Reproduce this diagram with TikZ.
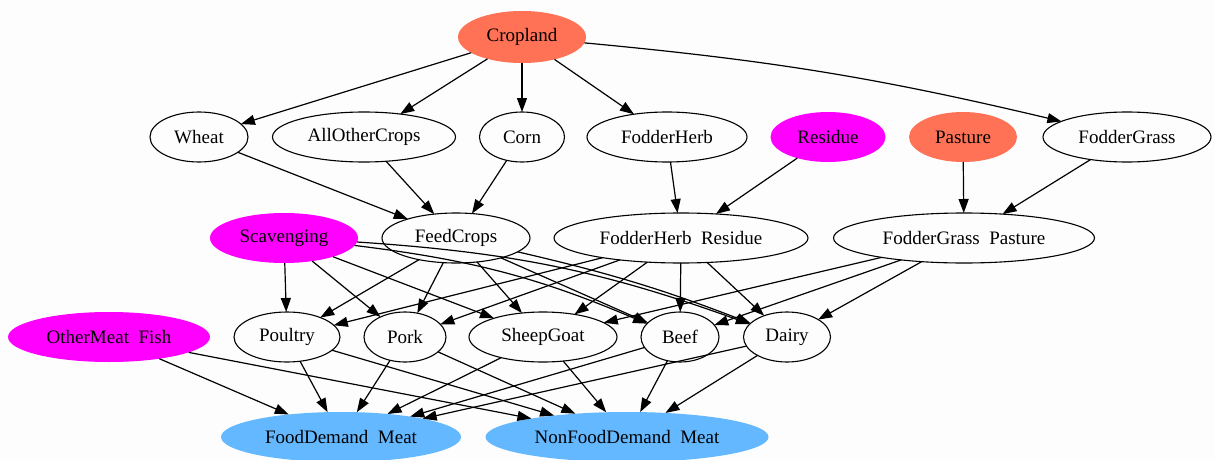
\documentclass[tikz,border=0pt]{standalone}
\usepackage{fontspec}
\setmainfont{Liberation Serif}
\usetikzlibrary{shapes.geometric,arrows.meta}
\definecolor{bgc}{RGB}{252,253,252}
\definecolor{coralc}{RGB}{255,114,86}
\definecolor{magc}{RGB}{255,0,255}
\definecolor{bluec}{RGB}{99,184,255}
\tikzset{
  nd/.style={ellipse, draw=black, line width=1.1pt, inner sep=0pt, outer sep=0pt,
    minimum height=50pt, font=\fontsize{19}{22}\selectfont},
  coralnd/.style={nd, draw=none, fill=coralc},
  magnd/.style={nd, draw=none, fill=magc},
  bluend/.style={nd, draw=none, fill=bluec},
  edge/.style={line width=1.2pt, -{Triangle[length=14pt,width=10pt]}}
}
\begin{document}
\begin{tikzpicture}[x=1pt,y=-1pt]
\fill[bgc] (0,0) rectangle (1215,460);
\useasboundingbox (0,0) rectangle (1215,460);
% row 1
\node[coralnd, minimum width=128pt, minimum height=52pt] (crop) at (522,37) {Cropland};
% row 2
\node[nd, minimum width=98pt] (wheat) at (199,137) {Wheat};
\node[nd, minimum width=183pt] (aoc) at (364,137) {AllOtherCrops};
\node[nd, minimum width=85pt] (corn) at (522,137) {Corn};
\node[nd, minimum width=160pt] (fh) at (667,137) {FodderHerb};
\node[magnd, minimum width=115pt] (res) at (828,137) {Residue};
\node[coralnd, minimum width=108pt] (past) at (963,137) {Pasture};
\node[nd, minimum width=168pt] (fg) at (1127,137) {FodderGrass};
% row 3
\node[magnd, minimum width=148pt] (scav) at (284,238) {Scavenging};
\node[nd, minimum width=148pt] (feed) at (456,238) {FeedCrops};
\node[nd, minimum width=254pt] (fhr) at (681,238) {FodderHerb\ \ Residue};
\node[nd, minimum width=261pt] (fgp) at (964,238) {FodderGrass\ \ Pasture};
% row 4
\node[magnd, minimum width=202pt] (omf) at (109,337) {OtherMeat\ \ Fish};
\node[nd, minimum width=106pt] (poul) at (287,337) {Poultry};
\node[nd, minimum width=82pt] (pork) at (405,337) {Pork};
\node[nd, minimum width=148pt] (sg) at (543,337) {SheepGoat};
\node[nd, minimum width=78pt] (beef) at (680,337) {Beef};
\node[nd, minimum width=87pt] (dairy) at (787,337) {Dairy};
% row 5
\node[bluend, minimum width=240pt] (food) at (341,437) {FoodDemand\ \ Meat};
\node[bluend, minimum width=283pt] (nonfood) at (627,437) {NonFoodDemand\ \ Meat};
% edges row1 -> row2
\draw[edge] (crop) -- (wheat);
\draw[edge] (crop) -- (aoc);
\draw[edge] (crop) -- (corn);
\draw[edge] (crop) -- (fh);
\draw[edge] (crop) to[bend left=4] (fg);
% row2 -> row3
\draw[edge] (wheat) -- (feed);
\draw[edge] (aoc) -- (feed);
\draw[edge] (corn) -- (feed);
\draw[edge] (fh) -- (fhr);
\draw[edge] (res) -- (fhr);
\draw[edge] (past) -- (fgp);
\draw[edge] (fg) -- (fgp);
% row3 -> row4
\draw[edge] (scav) -- (poul);
\draw[edge] (scav) -- (pork);
\draw[edge] (scav) -- (sg);
\draw[edge] (scav) to[bend left=8] (beef);
\draw[edge] (scav) to[bend left=8] (dairy);
\draw[edge] (feed) -- (poul);
\draw[edge] (feed) -- (pork);
\draw[edge] (feed) -- (sg);
\draw[edge] (feed) -- (beef);
\draw[edge] (feed) to[bend left=4] (dairy);
\draw[edge] (fhr) -- (poul);
\draw[edge] (fhr) -- (pork);
\draw[edge] (fhr) -- (sg);
\draw[edge] (fhr) -- (beef);
\draw[edge] (fhr) -- (dairy);
\draw[edge] (fgp) -- (sg);
\draw[edge] (fgp) -- (beef);
\draw[edge] (fgp) -- (dairy);
% row4 -> row5
\draw[edge] (omf) -- (food);
\draw[edge] (omf) -- (nonfood);
\draw[edge] (poul) -- (food);
\draw[edge] (poul) -- (nonfood);
\draw[edge] (pork) -- (food);
\draw[edge] (pork) -- (nonfood);
\draw[edge] (sg) -- (food);
\draw[edge] (sg) -- (nonfood);
\draw[edge] (beef) -- (food);
\draw[edge] (beef) -- (nonfood);
\draw[edge] (dairy) -- (food);
\draw[edge] (dairy) -- (nonfood);
\end{tikzpicture}
\end{document}
